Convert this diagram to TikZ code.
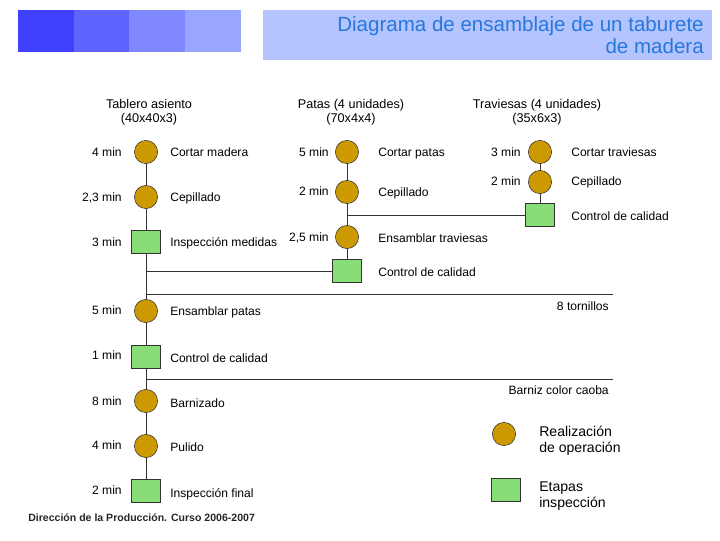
\documentclass[tikz,border=0pt]{standalone}
\usepackage{fontspec}
\setmainfont{Liberation Sans}
\usetikzlibrary{positioning}
\definecolor{opgold}{HTML}{CC9900}
\definecolor{ingreen}{HTML}{88DD77}
\definecolor{borde}{HTML}{333333}
\definecolor{azulA}{HTML}{4040FF}
\definecolor{azulB}{HTML}{6064FF}
\definecolor{azulC}{HTML}{8088FF}
\definecolor{azulD}{HTML}{98A6FF}
\definecolor{fondotit}{HTML}{B4C4FF}
\definecolor{textotit}{HTML}{2878DC}

\tikzset{
  oper/.style={circle, draw=borde, fill=opgold, minimum size=5.8mm, inner sep=0pt},
  insp/.style={rectangle, draw=borde, fill=ingreen, minimum width=7.2mm, minimum height=5.7mm, inner sep=0pt},
  tiempo/.style={anchor=east, inner sep=0pt, text height=7pt, text depth=1pt, font=\fontsize{8.6}{10}\selectfont},
  tarea/.style={anchor=west, inner sep=0pt, text height=7pt, text depth=1pt, font=\fontsize{8.6}{10}\selectfont},
  nota/.style={tiempo},
  cabecera/.style={align=center, inner sep=0pt, font=\fontsize{9}{10}\selectfont},
  leyenda/.style={anchor=west, align=left, inner sep=0pt, font=\fontsize{10}{11.4}\selectfont},
  enlace/.style={draw=borde, line width=0.6pt},
}

\begin{document}
\begin{tikzpicture}[x=0.025cm, y=-0.025cm]
    \useasboundingbox (0,0) rectangle (720,540);

    % Banner and title
    \fill[azulA] (18,10) rectangle (74,52);
    \fill[azulB] (74,10) rectangle (129,52);
    \fill[azulC] (129,10) rectangle (185,52);
    \fill[azulD] (185,10) rectangle (241,52);
    \fill[fondotit] (263,10) rectangle (712,60);
    \node[anchor=east, align=right, inner sep=0pt, text=textotit,
          font=\fontsize{14.6}{15.6}\selectfont] (titulo) at (704,35.5)
        {Diagrama de ensamblaje de un taburete\\de madera};

    % Column headers
    \node[cabecera] (hTablero) at (149,112) {Tablero asiento\\(40x40x3)};
    \node[cabecera] (hPatas)   at (351,112) {Patas (4 unidades)\\(70x4x4)};
    \node[cabecera] (hTrav)    at (537,112) {Traviesas (4 unidades)\\(35x6x3)};

    % Tablero asiento
    \node[oper] (tabA) at (146,152) {};
    \node[oper] (tabB) at (146,197) {};
    \node[insp] (tabC) at (146,242) {};
    \node[tiempo] at (122,152) {4 min};
    \node[tiempo] at (122,197) {2,3 min};
    \node[tiempo] at (122,242) {3 min};
    \node[tarea]  at (170,152) {Cortar madera};
    \node[tarea]  at (170,197) {Cepillado};
    \node[tarea]  at (170,242) {Inspección medidas};

    % Patas
    \node[oper] (patA) at (347,152) {};
    \node[oper] (patB) at (347,192) {};
    \node[oper] (patC) at (347,237) {};
    \node[insp] (patD) at (347,271) {};
    \node[tiempo] at (329,152) {5 min};
    \node[tiempo] at (329,191) {2 min};
    \node[tiempo] at (329,237) {2,5 min};
    \node[tarea]  at (378,152) {Cortar patas};
    \node[tarea]  at (378,192) {Cepillado};
    \node[tarea]  at (378,238) {Ensamblar traviesas};
    \node[tarea]  at (378,272) {Control de calidad};

    % Traviesas
    \node[oper] (travA) at (540,152) {};
    \node[oper] (travB) at (540,182) {};
    \node[insp] (travC) at (540,215) {};
    \node[tiempo] at (521,152) {3 min};
    \node[tiempo] at (521,181) {2 min};
    \node[tarea]  at (571,152) {Cortar traviesas};
    \node[tarea]  at (571,181) {Cepillado};
    \node[tarea]  at (571,216) {Control de calidad};

    % Montaje
    \node[oper] (monA) at (146,311) {};
    \node[insp] (monB) at (146,357) {};
    \node[oper] (monC) at (146,401) {};
    \node[oper] (monD) at (146,446) {};
    \node[insp] (monE) at (146,491) {};
    \node[tiempo] at (122,310) {5 min};
    \node[tiempo] at (122,355) {1 min};
    \node[tiempo] at (122,401) {8 min};
    \node[tiempo] at (122,445) {4 min};
    \node[tiempo] at (122,490) {2 min};
    \node[tarea]  at (170,311) {Ensamblar patas};
    \node[tarea]  at (170,358) {Control de calidad};
    \node[tarea]  at (170,403) {Barnizado};
    \node[tarea]  at (170,447) {Pulido};
    \node[tarea]  at (170,493) {Inspección final};

    % Connectors
    \draw[enlace] (tabA) -- (tabB) -- (tabC) -- (monA) -- (monB) -- (monC) -- (monD) -- (monE);
    \draw[enlace] (patA) -- (patB) -- (patC) -- (patD);
    \draw[enlace] (travA) -- (travB) -- (travC);
    \draw[enlace] (patD.west) -- (patD.west -| tabC);
    \draw[enlace] (travC.west) -- (travC.west -| patA);

    % Inputs
    \coordinate (finTornillos) at (613,294);
    \coordinate (finBarniz) at (613,379);
    \draw[enlace] (finTornillos -| tabC) -- (finTornillos);
    \draw[enlace] (finBarniz -| tabC) -- (finBarniz);
    \node[nota] (txtTornillos) at (609,306) {8 tornillos};
    \node[nota] (txtBarniz) at (609,390) {Barniz color caoba};

    % Legend
    \node[oper] (leyOper) at (504,434) {};
    \node[insp] (leyInsp) at (506,490) {};
    \node[leyenda] (txtOper) at (539,441) {Realización\\de operación};
    \node[leyenda] (txtInsp) at (539,496) {Etapas\\inspección};

    % Footer
    \node[anchor=west, inner sep=0pt, text=black!85,
          font=\bfseries\fontsize{7.5}{9}\selectfont] (pie) at (28,517.5)
        {Dirección de la Producción. Curso 2006-2007};
\end{tikzpicture}
\end{document}
